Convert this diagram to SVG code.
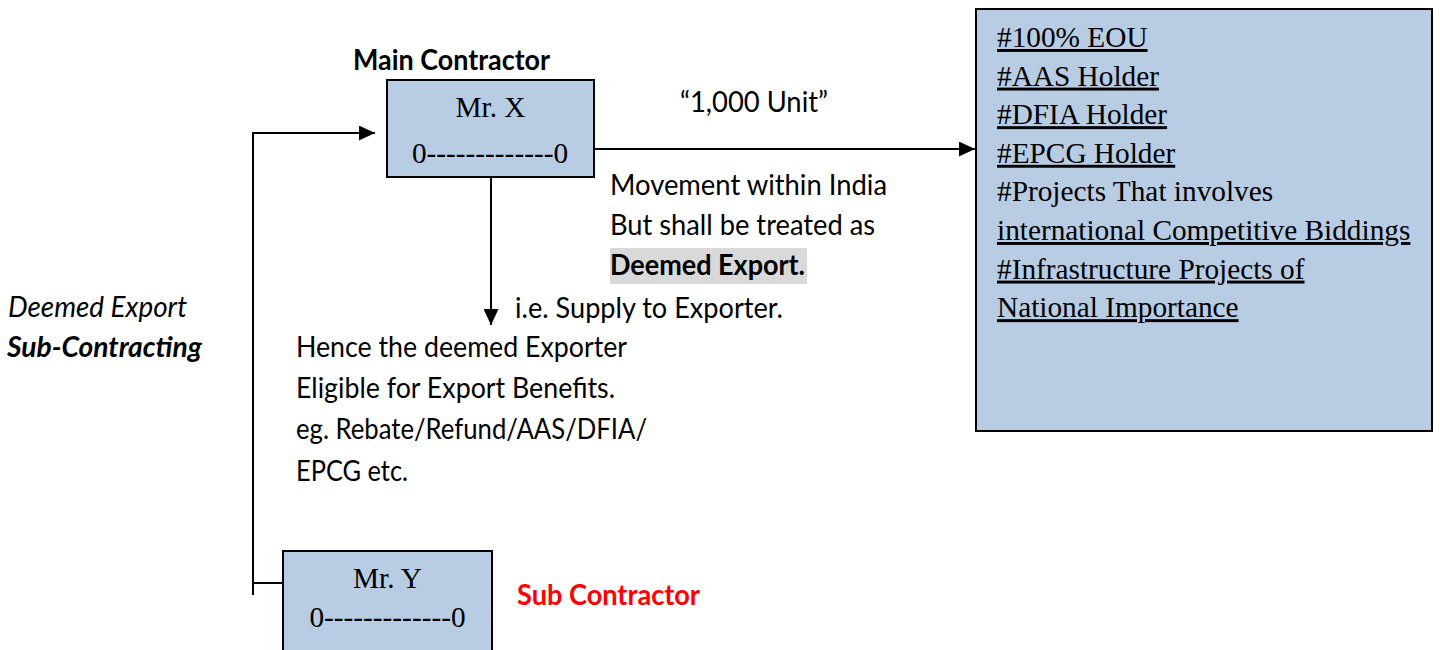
<svg xmlns="http://www.w3.org/2000/svg" width="1440" height="650" viewBox="0 0 1440 650">
  <defs>
    <marker id="arrow" viewBox="0 0 16 15" refX="16" refY="7.5" markerWidth="16" markerHeight="15" markerUnits="userSpaceOnUse" orient="auto">
      <path d="M0,0 L16,7.5 L0,15 Z" fill="#000"/>
    </marker>
    <style>
      .box { fill: #B8CCE4; stroke: #000; stroke-width: 2; }
      .serif { font-family: "Liberation Serif", "Times New Roman", serif; font-size: 29.3px; fill: #000; }
      .sans { font-family: Lato, "Open Sans", "Liberation Sans", sans-serif; font-size: 29px; fill: #000; }
      .bold { font-weight: bold; }
      .ul { text-decoration: underline; }
      .conn { fill: none; stroke: #000; stroke-width: 2; }
    </style>
  </defs>
  <rect width="1440" height="650" fill="#fff"/>

  <!-- connectors -->
  <g id="connectors">
    <polyline class="conn" points="253,595 253,133 375,133" marker-end="url(#arrow)"/>
    <line class="conn" x1="253" y1="583" x2="283" y2="583"/>
    <line class="conn" x1="594" y1="149" x2="975" y2="149" marker-end="url(#arrow)"/>
    <line class="conn" x1="491" y1="178" x2="491" y2="325" marker-end="url(#arrow)"/>
  </g>

  <!-- main contractor -->
  <g id="main-contractor">
    <text class="sans bold" x="353" y="70" textLength="197" lengthAdjust="spacingAndGlyphs">Main Contractor</text>
    <rect class="box" x="387" y="80" width="207" height="97"/>
    <text class="serif" x="490.5" y="117" text-anchor="middle">Mr. X</text>
    <text class="serif" x="490" y="163" text-anchor="middle">0-------------0</text>
  </g>

  <!-- sub contractor -->
  <g id="sub-contractor">
    <rect class="box" x="283" y="551" width="209" height="104"/>
    <text class="serif" x="387.5" y="588" text-anchor="middle">Mr. Y</text>
    <text class="serif" x="387.5" y="627" text-anchor="middle">0-------------0</text>
    <text class="sans bold" x="517" y="605" style="fill:#FF0000" textLength="183" lengthAdjust="spacingAndGlyphs">Sub Contractor</text>
  </g>

  <!-- eligible recipients -->
  <g id="recipients">
    <rect class="box" x="976" y="9" width="456" height="422"/>
    <text class="serif ul" x="997" y="47">#100% EOU</text>
    <text class="serif ul" x="997" y="85.6">#AAS Holder</text>
    <text class="serif ul" x="997" y="124.2">#DFIA Holder</text>
    <text class="serif ul" x="997" y="162.8">#EPCG Holder</text>
    <text class="serif" x="997" y="201.4">#Projects That involves</text>
    <text class="serif ul" x="997" y="240">international Competitive Biddings</text>
    <text class="serif ul" x="997" y="278.6">#Infrastructure Projects of</text>
    <text class="serif ul" x="997" y="317.2">National Importance</text>
  </g>

  <!-- supply labels -->
  <g id="supply-labels">
    <text class="sans" x="680" y="112" textLength="148" lengthAdjust="spacingAndGlyphs">“1,000 Unit”</text>
    <text class="sans" x="610" y="195" textLength="277" lengthAdjust="spacingAndGlyphs">Movement within India</text>
    <text class="sans" x="610" y="235" textLength="265" lengthAdjust="spacingAndGlyphs">But shall be treated as</text>
    <rect x="610" y="248" width="197" height="36" fill="#D9D9D9"/>
    <text class="sans bold" x="610" y="275" textLength="195" lengthAdjust="spacingAndGlyphs">Deemed Export.</text>
  </g>

  <!-- benefit notes -->
  <g id="benefit-notes">
    <text class="sans" x="515" y="318" textLength="268" lengthAdjust="spacingAndGlyphs">i.e. Supply to Exporter.</text>
    <text class="sans" x="296" y="357" textLength="331" lengthAdjust="spacingAndGlyphs">Hence the deemed Exporter</text>
    <text class="sans" x="296" y="398" textLength="319" lengthAdjust="spacingAndGlyphs">Eligible for Export Benefits.</text>
    <text class="sans" x="296" y="439" textLength="351" lengthAdjust="spacingAndGlyphs">eg. Rebate/Refund/AAS/DFIA/</text>
    <text class="sans" x="296" y="481" textLength="112" lengthAdjust="spacingAndGlyphs">EPCG etc.</text>
  </g>

  <!-- side caption -->
  <g id="side-caption">
    <text class="sans" x="8" y="317" font-style="italic" textLength="179" lengthAdjust="spacingAndGlyphs">Deemed Export</text>
    <text class="sans bold" x="7" y="357" font-style="italic" textLength="195" lengthAdjust="spacingAndGlyphs">Sub-Contracting</text>
  </g>
</svg>
